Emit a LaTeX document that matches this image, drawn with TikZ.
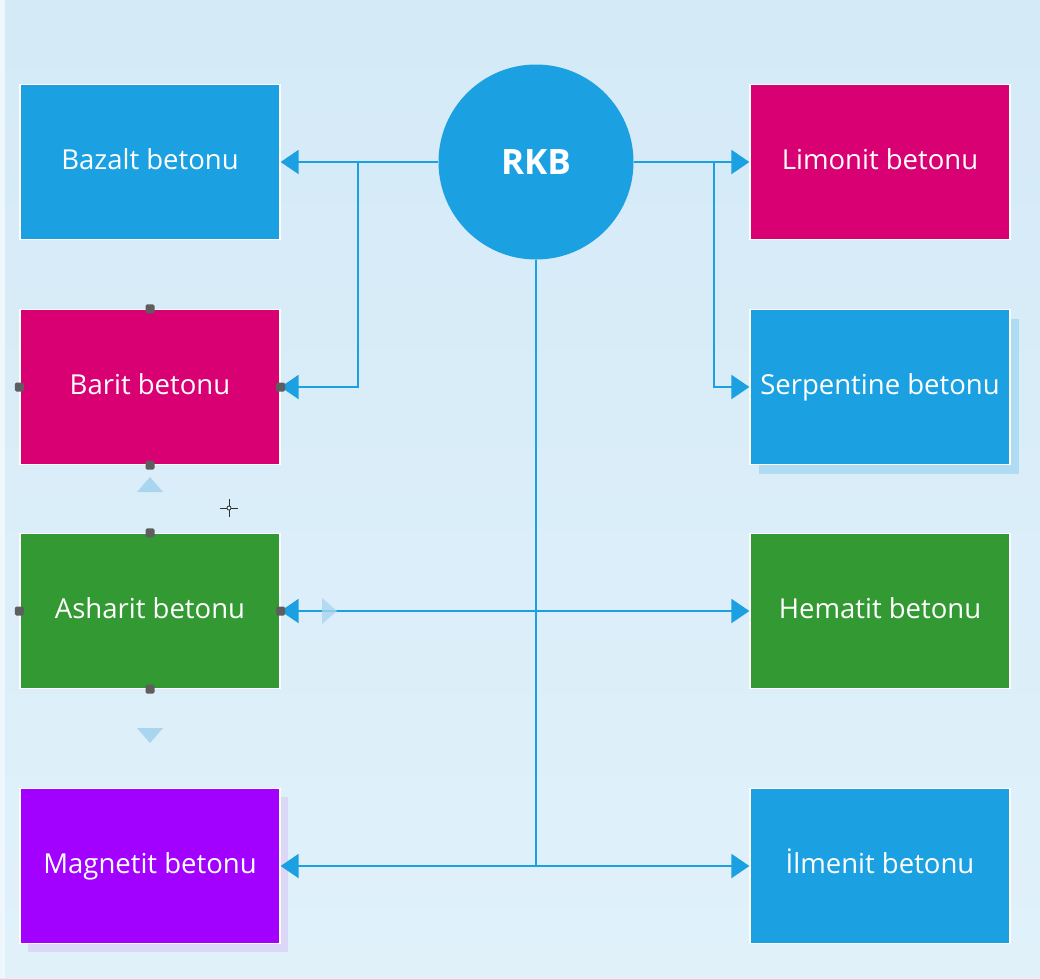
\documentclass[tikz,border=0pt]{standalone}
\usepackage{fontspec}
\setmainfont{Open Sans}
\usetikzlibrary{arrows.meta,shadows}
\definecolor{mblue}{HTML}{1BA1E2}
\definecolor{mmagenta}{HTML}{D80073}
\definecolor{mgreen}{HTML}{339933}
\definecolor{mpurple}{HTML}{A200FF}
\definecolor{bgtop}{HTML}{D4EAF7}
\definecolor{bgbot}{HTML}{E0F1FA}
\definecolor{handle}{HTML}{5E5E5E}
\definecolor{ghost}{HTML}{A9D5EE}
\definecolor{lavender}{HTML}{DAD8F6}
\tikzset{
    beton/.style={rectangle, draw=white, line width=1.2pt, minimum width=260pt,
        minimum height=155pt, text=white, text height=20pt, text depth=5pt,
        font=\fontsize{27.5}{32}\selectfont},
    link/.style={mblue, line width=2pt},
    tip/.style={-{Triangle[length=18pt,width=24pt]}},
    dot/.style={fill=handle, rounded corners=1.5pt, minimum size=9pt, inner sep=0pt}
}
\begin{document}
\begin{tikzpicture}[x=1pt,y=-1pt]
        \shade[top color=bgtop, bottom color=bgbot] (0,0) rectangle (1040,978);
        \fill[white!60!bgtop] (0,0) rectangle (5,978);
        \useasboundingbox (0,0) rectangle (1040,978);
        % center
        \node[circle, fill=mblue, minimum size=195pt, text=white,
            font=\bfseries\fontsize{35}{38}\selectfont] (rkb) at (536,162) {RKB};
        % left column
        \node[beton, fill=mblue] (bazalt) at (150,162) {Bazalt betonu};
        \node[beton, fill=mmagenta] (barit) at (150,387) {Barit betonu};
        \node[beton, fill=mgreen] (asharit) at (150,611) {Asharit betonu};
        \node[beton, fill=mpurple, drop shadow={shadow xshift=8pt, shadow yshift=-8pt,
            fill=lavender, opacity=1}] (magnetit) at (150,866) {Magnetit betonu};
        % right column
        \node[beton, fill=mmagenta] (limonit) at (880,162) {Limonit betonu};
        \node[beton, fill=mblue, drop shadow={shadow xshift=9pt, shadow yshift=-9pt,
            fill=mblue!20!bgtop, opacity=1}] (serpentin) at (880,387) {Serpentine betonu};
        \node[beton, fill=mgreen] (hematit) at (880,611) {Hematit betonu};
        \node[beton, fill=mblue] (ilmenit) at (880,866) {İlmenit betonu};
        % connectors
        \coordinate (jl) at (358,162);
        \coordinate (jr) at (714,162);
        \draw[link, tip] (rkb.west) -- (bazalt.east);
        \draw[link, tip] (jl) |- (barit.east);
        \draw[link, tip] (rkb.east) -- (limonit.west);
        \draw[link, tip] (jr) |- (serpentin.west);
        \draw[link] (rkb.south) -- (rkb.south |- magnetit.east);
        \draw[link, tip] (rkb.south |- magnetit.east) -- (magnetit.east);
        \draw[link, tip] (rkb.south |- magnetit.east) -- (ilmenit.west);
        \draw[link, tip] (rkb.south |- asharit.east) -- (asharit.east);
        \draw[link, tip] (rkb.south |- asharit.east) -- (hematit.west);
        % selection handles
        \foreach \b in {barit,asharit}{
            \foreach \s in {north,south,west,east}
                \node[dot] at (\b.\s) {};}
        \fill[ghost] (150,477) -- (163,492) -- (137,492) -- cycle;
        \fill[ghost] (150,743) -- (163,728) -- (137,728) -- cycle;
        \fill[ghost, opacity=.8] (337,611) -- (322,598) -- (322,624) -- cycle;
        \draw[black!80, line width=1pt] (220,508) -- (238,508) (229,499) -- (229,517);
        \draw[black!80, fill=white, line width=.8pt] (229,508) circle (2pt);
    \end{tikzpicture}
\end{document}
